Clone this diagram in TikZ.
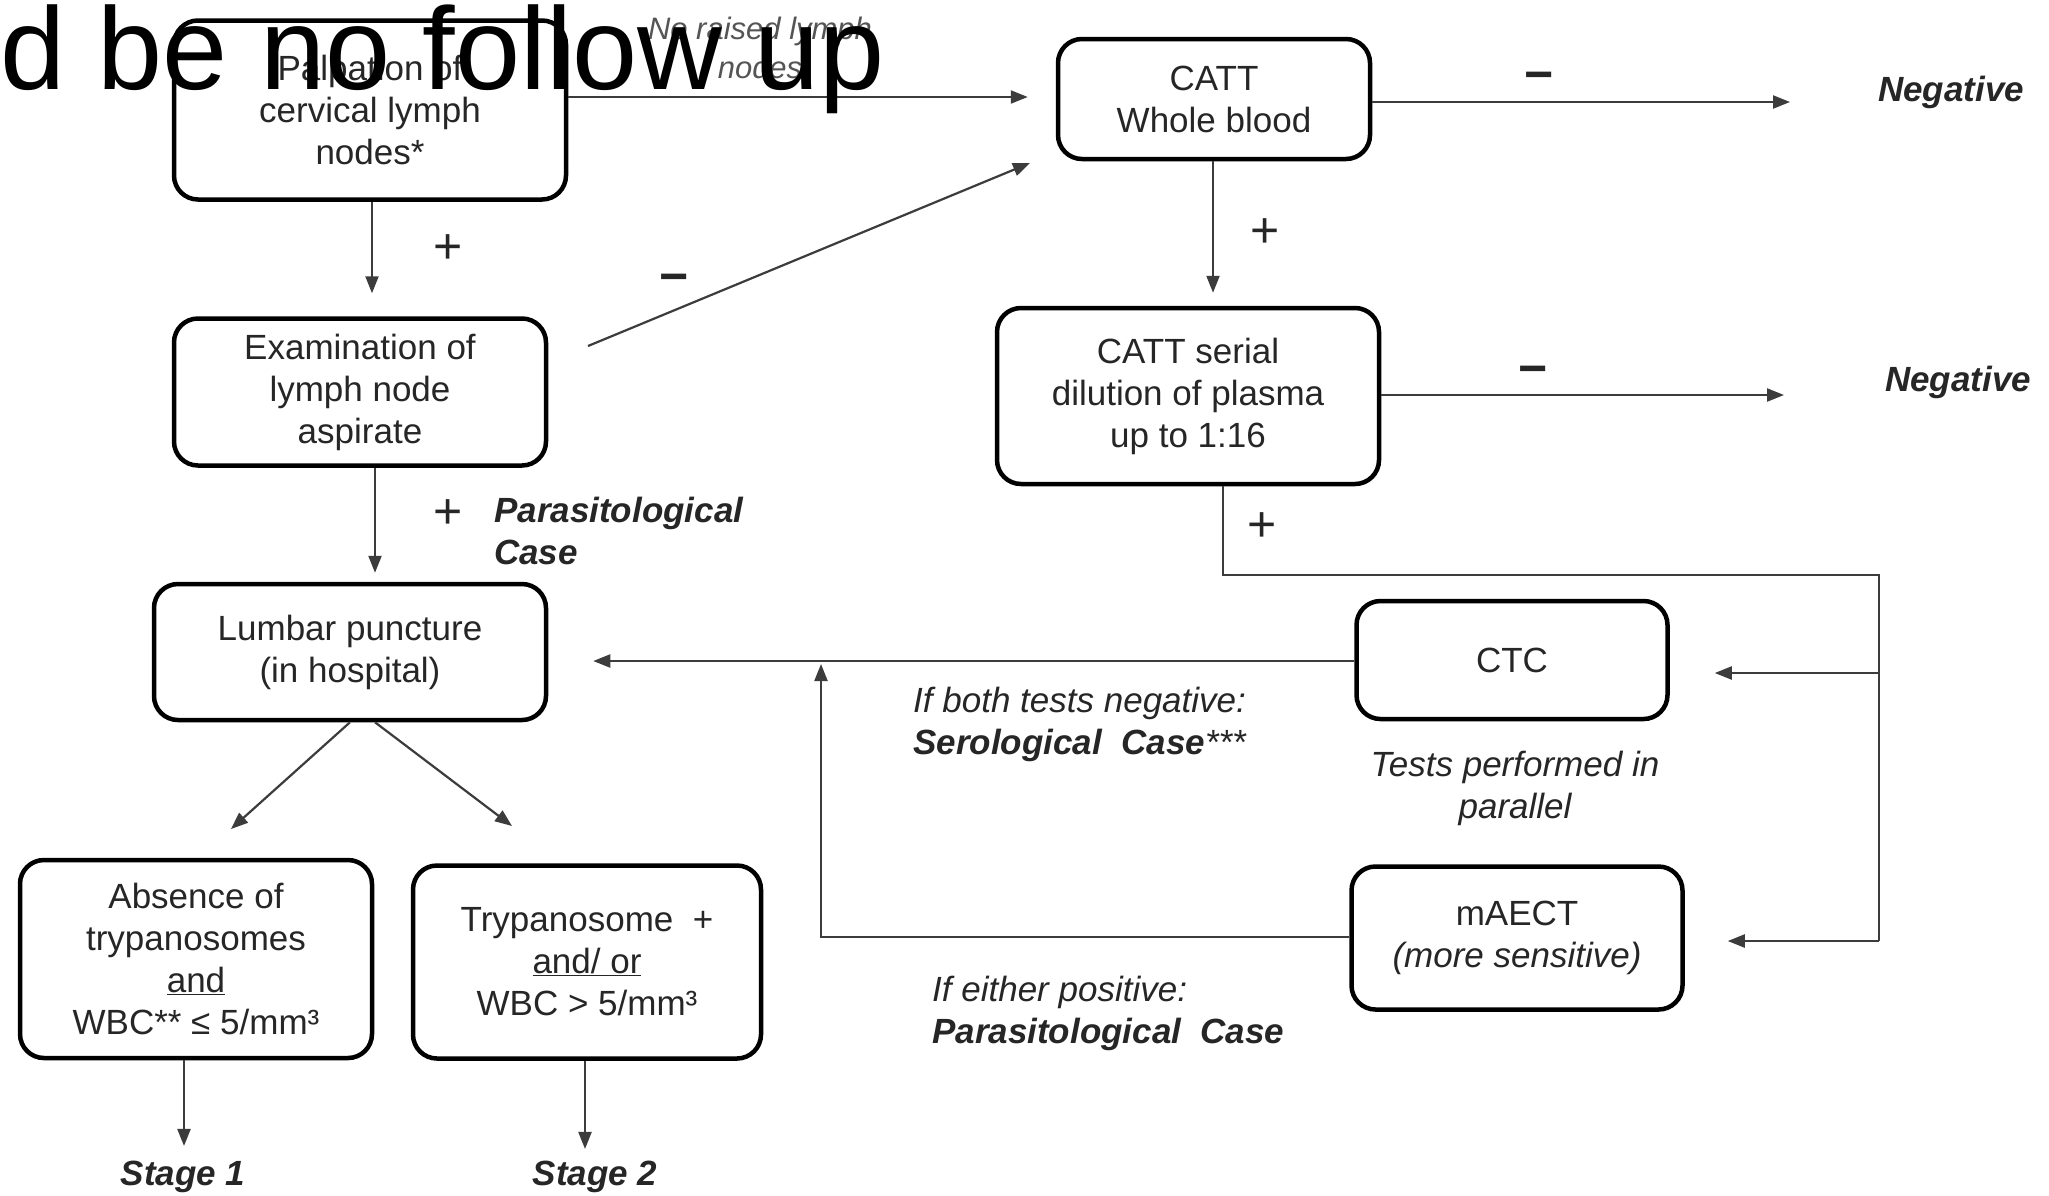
\documentclass[tikz,border=0pt]{standalone}
\usepackage{fontspec}
\setmainfont{Liberation Sans}
\usetikzlibrary{arrows.meta}
\definecolor{ink}{RGB}{38,38,38}
\definecolor{lnc}{RGB}{60,60,60}
\definecolor{soft}{RGB}{85,85,85}
\begin{document}
\begin{tikzpicture}[x=1pt,y=-1pt,
 box/.style={draw=black, line width=4.5pt, rounded corners=24pt, inner sep=0pt, align=center, text=ink, font=\fontsize{35}{42}\selectfont},
 conn/.style={draw=lnc, line width=2.2pt},
 arr/.style={conn, -{Triangle[length=17pt,width=13pt]}},
 sign/.style={font=\fontsize{50}{50}\selectfont, text=ink, inner sep=0pt},
 msign/.style={font=\fontsize{50}{50}\selectfont\bfseries, text=ink, inner sep=0pt},
 lbl/.style={font=\fontsize{35}{42}\selectfont\itshape, text=ink, inner sep=0pt, align=center},
 blbl/.style={font=\fontsize{35}{42}\selectfont\bfseries\itshape, text=ink, inner sep=0pt, align=left}]
\fill[white] (0,0) rectangle (2049,1195);
\useasboundingbox (0,0) rectangle (2049,1195);

% boxes
\node[box, minimum width=392pt, minimum height=179pt] (palp) at (370,110) {Palpation of\\cervical lymph\\nodes*};
\node[box, minimum width=312pt, minimum height=120pt] (catt) at (1214,99) {CATT\\Whole blood};
\node[box, minimum width=382pt, minimum height=176pt] (serial) at (1188,396) {CATT serial\\dilution of plasma\\up to 1:16};
\node[box, minimum width=311pt, minimum height=118pt] (ctc) at (1512,660) {CTC};
\node[box, minimum width=331pt, minimum height=143pt] (maect) at (1517,938) {mAECT\\\itshape(more sensitive)};
\node[box, minimum width=372pt, minimum height=147pt] (exam) at (360,392) {Examination of\\lymph node\\aspirate};
\node[box, minimum width=392pt, minimum height=136pt] (lumb) at (350,652) {Lumbar puncture\\(in hospital)};
\node[box, minimum width=352pt, minimum height=198pt] (absn) at (196,959) {Absence of\\trypanosomes\\\underline{and}\\WBC** ≤ 5/mm³};
\node[box, minimum width=348pt, minimum height=193pt] (tryp) at (587,962) {Trypanosome \ +\\\underline{and/ or}\\WBC > 5/mm³};

% free-end labels
\node[blbl] (neg1) at (1951,92) {Negative};
\node[blbl] (neg2) at (1958,382) {Negative};
\node[blbl] (st1) at (183,1177) {Stage 1};
\node[blbl] (st2) at (595,1177) {Stage 2};
\node[font=\fontsize{31}{39}\selectfont\itshape, text=soft, inner sep=0pt, align=center] (noraise) at (760,48) {No raised lymph\\nodes};
\node[lbl] (par) at (1515,788) {Tests performed in\\parallel};
\node[blbl, anchor=north west] (paracase) at (494,497) {Parasitological\\Case};
\node[lbl, anchor=north west, align=left] (bothneg) at (913,687) {If both tests negative:\\\bfseries Serological\ \ Case\mdseries***};
\node[lbl, anchor=north west, align=left] (eitherpos) at (932,976) {If either positive:\\\bfseries Parasitological\ \ Case};

% signs
\node[sign] (s1) at (448,249) {+};
\node[sign] (s2) at (448,514) {+};
\node[sign] (s3) at (1265,233) {+};
\node[sign] (s4) at (1262,527) {+};
\node[msign] (m1) at (674,284) {−};
\node[msign] (m2) at (1539,82) {−};
\node[msign] (m3) at (1533,376) {−};

% connectors
\coordinate (negtip1) at (1790,102);
\coordinate (negtip2) at (1784,395);
\coordinate (dA) at (588,346);
\coordinate (dB) at (1030,163);
\coordinate (ba) at (1223,575);
\coordinate (bb) at (1879,575);
\coordinate (bc) at (1879,941);
\coordinate (bm) at (1879,673);
\coordinate (up) at (821,937);
\coordinate (lA) at (231,829);
\coordinate (lB) at (512,826);

\draw[arr, shorten >=28pt] (palp.east|-0,97) -- (catt.west|-0,97);
\draw[arr] (catt.east|-0,102) -- (negtip1);
\draw[arr, shorten >=13pt] (1213,0|-catt.south) -- (1213,0|-serial.north);
\draw[arr] (serial.east|-0,395) -- (negtip2);
\draw[conn] (1223,0|-serial.south) -- (ba) -- (bb) -- (bc);
\draw[arr, shorten >=45pt] (bm) -- (ctc.east|-bm);
\draw[arr, shorten >=43pt] (bc) -- (maect.east|-bc);
\draw[arr, shorten >=45pt] (ctc.west|-0,661) -- (lumb.east|-0,661);
\draw[arr] (maect.west|-up) -- (up) -- (821,664);
\draw[arr, shorten >=23pt] (372,0|-palp.south) -- (372,0|-exam.north);
\draw[arr] (dA) -- (dB);
\draw[arr, shorten >=9pt] (375,0|-exam.south) -- (375,0|-lumb.north);
\draw[arr] (350,0|-lumb.south) -- (lA);
\draw[arr] (375,0|-lumb.south) -- (lB);
\draw[arr, shorten >=15pt] (184,0|-absn.south) -- (184,0|-st1.north);
\draw[arr, shorten >=12pt] (585,0|-tryp.south) -- (585,0|-st2.north);

% overlay text
\node[anchor=base west, inner sep=0pt, font=\fontsize{117}{117}\selectfont, text=black] (ovl) at (0,89) {d be no follow up};
\end{tikzpicture}
\end{document}
